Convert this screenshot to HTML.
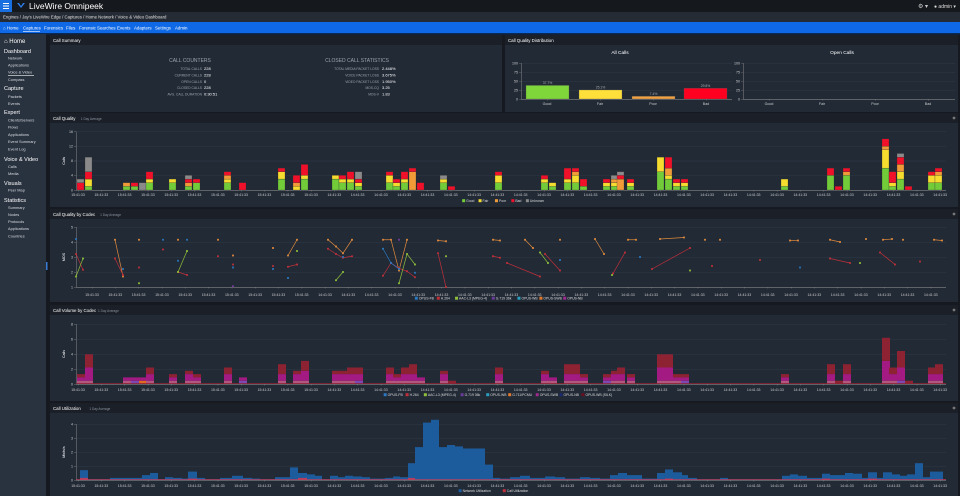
<!DOCTYPE html>
<html><head><meta charset="utf-8">
<style>
html,body{margin:0;padding:0;width:960px;height:496px;overflow:hidden;background:#161a20;}
svg{display:block;font-family:"Liberation Sans",sans-serif;}
</style></head>
<body>
<svg id="s" width="960" height="496" viewBox="0 0 960 496" xmlns="http://www.w3.org/2000/svg">
<rect width="960" height="496" fill="#161a20"/>
<!-- top bar -->
<rect x="0" y="0" width="960" height="12" fill="#15181c"/>
<rect x="0" y="0" width="12" height="12" fill="#1a6fe0"/>
<rect x="3" y="3" width="6" height="1" fill="#fff"/><rect x="3" y="5.5" width="6" height="1" fill="#fff"/><rect x="3" y="8" width="6" height="1" fill="#fff"/>
<path d="M17 3 L21 8 L25 3 L23 3 L21 6 L19 3Z" fill="#2a7de8"/>
<text x="29" y="9" font-size="8.5" fill="#fff">LiveWire Omnipeek</text>
<text x="918" y="8" font-size="6" fill="#ccc">⚙ ▾</text>
<text x="934" y="8" font-size="5" fill="#ddd">● admin ▾</text>
<rect x="0" y="12" width="960" height="10" fill="#252b34"/>
<text x="3" y="18.5" font-size="4.3" fill="#e0e0e0">Engines  /  Jay's LiveWire Edge  /  Captures  /  Home Network  /  Voice &amp; Video Dashboard</text>
<rect x="0" y="22" width="960" height="11" fill="#0f69e6"/>
<g font-size="4.4" fill="#fff">
<text x="3" y="29.5">⌂ Home</text><text x="23" y="29.5">Captures</text><text x="44" y="29.5">Forensics</text><text x="66" y="29.5">Files</text><text x="79" y="29.5">Forensic Searches</text><text x="117" y="29.5">Events</text><text x="134" y="29.5">Adapters</text><text x="155" y="29.5">Settings</text><text x="175" y="29.5">Admin</text>
</g>
<rect x="23" y="31" width="17" height="0.6" fill="#fff"/>
<rect x="0" y="33" width="960" height="1.5" fill="#0a2a55"/>
<!-- sidebar -->
<rect x="0" y="34" width="46" height="462" fill="#29323f"/>
<g fill="#fff">
<text x="4" y="43" font-size="6">⌂ Home</text>
<text x="4" y="53" font-size="5.5">Dashboard</text>
<text x="4" y="90" font-size="5.5">Capture</text>
<text x="4" y="114" font-size="5.5">Expert</text>
<text x="4" y="161" font-size="5.5">Voice &amp; Video</text>
<text x="4" y="185" font-size="5.5">Visuals</text>
<text x="4" y="202" font-size="5.5">Statistics</text>
</g>
<g fill="#d8dde4" font-size="3.9">
<text x="8" y="59.5">Network</text><text x="8" y="66.5">Applications</text><text x="8" y="73.5">Voice &amp; Video</text><text x="8" y="81">Compass</text>
<text x="8" y="98">Packets</text><text x="8" y="105">Events</text>
<text x="8" y="121.5">Clients/Servers</text><text x="8" y="128.5">Flows</text><text x="8" y="136">Applications</text><text x="8" y="143">Event Summary</text><text x="8" y="150.5">Event Log</text>
<text x="8" y="168">Calls</text><text x="8" y="175">Media</text>
<text x="8" y="191.5">Peer Map</text>
<text x="8" y="209">Summary</text><text x="8" y="216">Nodes</text><text x="8" y="223">Protocols</text><text x="8" y="230">Applications</text><text x="8" y="237.5">Countries</text>
</g>
<rect x="8" y="75" width="26" height="0.6" fill="#fff"/>
<rect x="46" y="262" width="1.5" height="8" fill="#3a7bd5"/>

<!-- panels -->
<g id="panels"></g>

<!-- call summary text -->
<g font-size="5" fill="#9aa3ae" text-anchor="middle">
<text x="190" y="62">CALL COUNTERS</text>
<text x="357" y="62">CLOSED CALL STATISTICS</text>
</g>
<g font-size="3.3" fill="#9aa3ae" text-anchor="end">
<text x="202" y="70">TOTAL CALLS</text><text x="202" y="76.5">CURRENT CALLS</text><text x="202" y="82.8">OPEN CALLS</text><text x="202" y="89">CLOSED CALLS</text><text x="202" y="95.5">AVG. CALL DURATION</text>
<text x="379" y="70">TOTAL MEDIA PACKET LOSS</text><text x="379" y="76.5">VOICE PACKET LOSS</text><text x="379" y="82.8">VIDEO PACKET LOSS</text><text x="379" y="89">MOS-CQ</text><text x="379" y="95.5">MOS-V</text>
</g>
<g font-size="4" fill="#fff">
<text x="204" y="70">228</text><text x="204" y="76.5">228</text><text x="204" y="82.8">0</text><text x="204" y="89">228</text><text x="204" y="95.5">0:30:51</text>
<text x="382" y="70">2.448%</text><text x="382" y="76.5">3.675%</text><text x="382" y="82.8">1.950%</text><text x="382" y="89">3.25</text><text x="382" y="95.5">1.83</text>
</g>

<!-- distribution -->
<g font-size="4.8" fill="#fff" text-anchor="middle"><text x="620" y="54">All Calls</text><text x="842" y="54">Open Calls</text></g>
<g id="dist"></g>

<g id="charts"></g>
</svg>
<script>
var NS="http://www.w3.org/2000/svg";
function el(parent,tag,attrs,txt){var e=document.createElementNS(NS,tag);for(var k in attrs)e.setAttribute(k,attrs[k]);if(txt!==undefined)e.textContent=txt;document.getElementById(parent).appendChild(e);return e;}
function rect(p,x,y,w,h,f,extra){var a={x:x,y:y,width:w,height:h,fill:f};for(var k in extra)a[k]=extra[k];return el(p,'rect',a);}
function text(p,x,y,s,t,f,anchor,extra){var a={x:x,y:y,'font-size':s,fill:f||'#ccc'};if(anchor)a['text-anchor']=anchor;for(var k in extra)a[k]=extra[k];return el(p,'text',a,t);}

// panels
function panel(x,y,w,h,title,sub){
  rect('panels',x,y,w,h,'#222a36');
  rect('panels',x,y,w,10,'#1b2028');
  var t=text('panels',x+3,y+6.8,4.4,title,'#fff');
  if(sub){text('panels',x+5+title.length*2.15,y+6.8,3.2,sub,'#8b939e');}
  if(w>600) el('panels','circle',{cx:x+w-4,cy:y+5,r:1.4,fill:'#777'});
}
panel(50,35,452,77,'Call Summary');
panel(505,35,453,77,'Call Quality Distribution');
panel(50,113,908,94,'Call Quality','1 Day Average');
panel(50,209,908,93,'Call Quality by Codec','1 Day Average');
panel(50,305,908,96,'Call Volume by Codec','1 Day Average');
panel(50,403,908,93,'Call Utilization','1 Day Average');

// distribution axes
function distAxes(x0,x1,labels){
  var ys=[[99,'0'],[90,'25'],[81,'50'],[72,'75'],[63,'100']];
  ys.forEach(function(v){ if(v[0]!=99) rect('dist',x0,v[0],x1-x0,0.4,'#333c49'); rect('dist',x0-2,v[0],2,0.4,'#777'); text('dist',x0-3,v[0]+1.3,3.6,v[1],'#ccc','end');});
  rect('dist',x0,63,0.5,36,'#888'); rect('dist',x0,99,x1-x0,0.6,'#888');
  labels.forEach(function(l){rect('dist',l[0],99,0.4,1.5,'#888');text('dist',l[0],105,3.6,l[1],'#ccc','middle');});
}
distAxes(521,732,[[547,'Good'],[600,'Fair'],[653,'Poor'],[706,'Bad']]);
distAxes(743,955,[[769,'Good'],[822,'Fair'],[875,'Poor'],[928,'Bad']]);
[[526,37.7,'#7ed63a'],[579,25.1,'#ffe03a'],[632,7.4,'#f0a040'],[684,29.8,'#ff0020']].forEach(function(b){
  var h=b[1]*0.36; rect('dist',b[0],99-h,43,h,b[2],{stroke:'#555',"stroke-width":0.3});
  text('dist',b[0]+21.5,99-h-1.5,3.4,b[1]+'%','#aaa','middle');
});

// generic axes
function axes(x0,x1,ybase,grid,ylab,ytitle,tickY,labX0){
  grid.forEach(function(g){ if(g[0]!==ybase) rect('charts',x0,g[0],x1-x0,0.4,'#333d4b'); rect('charts',x0-2,g[0],2,0.4,'#888'); text('charts',x0-3,g[0]+1.3,3.6,g[1],'#ccc','end');});
  rect('charts',x0,grid[grid.length-1][0],0.5,ybase-grid[grid.length-1][0],'#888');
  rect('charts',x0,ybase,x1-x0,0.6,'#888');
  var t=text('charts',0,0,3.6,ytitle,'#fff','middle',{transform:'translate('+(x0-11)+','+((ybase+grid[grid.length-1][0])/2)+') rotate(-90)'});
  for(var x=labX0;x<x1;x+=23.3){ rect('charts',x,ybase,0.4,1.5,'#888'); text('charts',x,tickY,3.5,x<320?'15:41:33':'14:41:33','#ccc','middle');}
}
function legend(y,items,xc){
  var tot=0; items.forEach(function(i){tot+=4+i[0].length*1.85+5;});
  var x=xc-tot/2;
  items.forEach(function(i){rect('charts',x,y-2.8,3,3,i[1]);text('charts',x+4,y,3.4,i[0],'#ddd');x+=4+i[0].length*1.85+5;});
}

// ---- Call Quality ----
axes(76,946,190,[[190,'0'],[175.4,'4'],[160.8,'8'],[146.2,'12'],[131.6,'16']],'','Calls',196,78);
var Q=[[77,0,0,0,2,1],[85,1,2,0,2,4],[123,1,0,1,0,0],[131,1,0,0,1,0],[139,0,0,0,0,2],[146,2,1,0,2,0],[169,2,1,0,0,0],[185,1,0,1,1,1],[193,2,0,0,1,0],[224,2,1,1,1,0],[239,0,0,0,2,0],[278,3,2,0,1,0],[293,0,1,1,2,0],[301,3,1,0,3,0],[332,3,1,0,0,0],[339,2,1,0,1,0],[347,2,1,0,2,0],[355,1,1,0,1,2],[386,2,2,0,1,0],[393,1,1,0,1,0],[401,2,1,0,2,0],[409,0,0,5,1,0],[417,0,0,0,2,0],[440,2,1,0,0,1],[448,0,0,0,1,0],[495,2,2,0,1,0],
[541,2,1,0,1,0],[549,1,1,0,0,0],[564,2,1,0,3,0],[572,2,2,1,1,0],[580,1,0,0,2,0],[603,1,1,0,1,0],[611,1,1,1,0,1],[617,0,0,3,1,1],[627,1,1,0,1,0],[657,5,4,0,0,0],[665,3,1,2,3,0],[673,1,1,0,1,0],[681,1,1,0,1,0],[781,1,2,0,0,0],[827,4,0,0,2,0],[835,0,0,0,1,0],[843,4,0,1,1,0],[882,6,5,1,2,0],[889,1,1,0,3,0],[897,3,2,2,2,1],[905,0,0,0,1,0],[928,2,2,0,1,0],[935,2,2,1,1,0]];
var QC=['#72cc3a','#f5dc2e','#f09a38','#f0102a','#8a8a8a'];
var U=3.65;
Q.forEach(function(b){var y=190;for(var i=0;i<5;i++){var h=b[i+1]*U;if(h>0){y-=h;rect('charts',b[0],y,7,h,QC[i],{stroke:'#333',"stroke-width":0.25});}}});
legend(202,[['Good',QC[0]],['Fair',QC[1]],['Poor',QC[2]],['Bad',QC[3]],['Unknown',QC[4]]],505);

// ---- Codec ----
function my(m){return 287-(m-1)*15;}
axes(76,946,287,[[287,'1'],[272,'2'],[257,'3'],[242,'4'],[227,'5']],'','MOS',296,92);
var L={ '#e08a3c':[[[115,4.15],[123,1.7]],[[139,4.15]],[[178,4.15]],[[218,4.15]],[[233,3.1]],[[273,3.6]],[[288,3.1],[297,4.15]],[[328,4.15],[336,3.7],[343,3.25],[352,4.15]],[[383,4.15],[391,4.15],[399,2.1],[407,4.15]],[[438,4.1],[446,4.05]],[[493,4.15],[500,4.1]],[[525,4.15],[533,3.6]],[[560,4.15]],[[595,4.2],[604,3.2]],[[628,4.15],[636,4.15]],[[660,4.2],[684,4.3]],[[705,4.15]],[[720,4.15]],[[790,4.1],[798,4.1]],[[830,4.15],[840,4.0]],[[866,4.2]],[[883,4.15],[892,4.2]],[[903,4.15]],[[934,4.15],[942,4.1]]],
 '#c0303a':[[[76,3.2],[83,2.15]],[[115,2.9],[123,1.8]],[[139,2.3]],[[163,3.5]],[[178,2.0],[187,1.8]],[[218,3.05]],[[233,2.5]],[[273,2.4]],[[288,2.35],[297,2.5]],[[328,3.55],[336,3.2],[343,2.95],[352,3.05]],[[383,1.75],[391,2.6],[399,2.25],[407,2.05],[415,1.65]],[[438,3.25],[446,1.0]],[[493,3.05],[500,2.95]],[[507,2.6],[540,1.7]],[[545,3.2],[560,2.1]],[[613,1.9],[625,3.3]],[[652,2.2],[690,3.6]],[[712,2.4]],[[760,2.8]],[[830,2.9],[850,2.6]],[[880,3.3],[895,2.5]],[[920,2.7]]],
 '#8fbf3a':[[[76,1.7],[83,2.9]],[[139,1.25]],[[178,2.0],[187,3.4]],[[297,3.4]],[[336,1.45],[343,2.0]],[[399,1.25],[407,3.2],[415,2.5]],[[446,3.05]],[[540,3.3],[548,2.6]],[[612,1.8]],[[690,2.1]],[[860,2.6]]],
 '#2a78c0':[[[76,4.2]],[[123,2.2]],[[163,4.15]],[[178,2.75]],[[187,4.15]],[[233,2.3]],[[273,2.2]],[[288,1.6]],[[343,3.0]],[[383,3.55],[391,2.6],[399,2.2]],[[415,1.95]],[[560,2.8]],[[640,3.0]],[[800,2.3]]],
 '#7a3aa0':[[[233,1.05]],[[399,4.15]]]};
for(var c in L){L[c].forEach(function(s){ if(s.length>1){el('charts','polyline',{points:s.map(function(p){return p[0]+','+my(p[1]);}).join(' '),fill:'none',stroke:c,'stroke-width':0.7});} s.forEach(function(p){rect('charts',p[0]-0.9,my(p[1])-0.9,1.8,1.8,c);});});}
legend(299.5,[['OPUS-FB','#2a78c0'],['H.264','#c0303a'],['AAC-L3 (MPEG-4)','#8fbf3a'],['G.719 36k','#6a3a9a'],['OPUS-WB','#2aa0c0'],['OPUS-SWB','#e07a30'],['OPUS-NB','#a02a90']],500);

// ---- Volume ----
axes(76,946,384,[[384,'0'],[369,'2'],[354,'4'],[339,'6'],[324,'8']],'','Calls',391,78);
Q.forEach(function(b,i){var t=b[1]+b[2]+b[3]+b[4]+b[5];var y=384;
  var parts=[[t>=2?1:0,'#b0587e'],[Math.round(t*0.4),'#a21a82'],[0,'#8c2232']];
  parts[2][0]=t-parts[0][0]-parts[1][0];
  if(i%7==3){parts[0][1]='#7a4ab0';} if(i==4){parts[0][1]='#e06a20';parts[0][0]=1;}
  parts.forEach(function(p){var h=p[0]*3.3;if(h>0){y-=h;rect('charts',b[0],y,8,h,p[1]);}});
});
rect('charts',76,383.2,870,0.8,'#8c2232');
legend(396,[['OPUS-FB','#2a78c0'],['H.264','#c0303a'],['AAC-L3 (MPEG-4)','#8fbf3a'],['G.719 36k','#6a3a9a'],['OPUS-WB','#2aa0c0'],['G.711/PCMU','#e07a30'],['OPUS-SWB','#a02a90'],['OPUS-NB','#1a2a70'],['OPUS-WB (SILK)','#6a1020']],500);

// ---- Utilization ----
axes(76,946,480,[[480,'0'],[466,'1'],[452,'2'],[438,'3'],[424,'4']],'','Mbits/s',487,78);
var UT=[[80,88,0.7],[88,110,0.05],[110,142,0.15],[142,150,0.35],[150,158,0.5],[158,165,0.05],[165,173,0.2],[173,182,0.15],[182,188,0.1],[188,197,0.6],[197,205,0.15],[205,220,0.05],[220,232,0.15],[232,243,0.3],[243,252,0.15],[252,260,0.1],[260,275,0.05],[275,290,0.2],[290,298,0.9],[298,307,0.5],[307,315,0.4],[315,322,0.3],[322,330,0.05],[330,338,0.3],[338,345,0.2],[345,353,0.3],[353,362,0.25],[362,370,0.2],[370,385,0.1],[385,393,0.15],[393,400,0.25],[400,408,0.2],[408,415,1.2],[415,423,2.35],[423,431,4.1],[431,439,4.3],[439,447,2.35],[447,455,2.5],[455,463,2.4],[463,485,2.25],[485,493,1.1],[493,500,0.15],
[500,510,0.1],[510,520,0.2],[520,530,0.3],[530,545,0.15],[545,555,0.25],[555,565,0.2],[565,580,0.1],[580,590,0.2],[590,600,0.15],
[600,610,0.1],[610,618,0.35],[618,627,0.5],[627,642,0.35],[642,657,0.1],[657,665,0.5],[665,673,0.75],[673,682,0.55],[682,688,0.35],[688,697,0.15],[697,720,0.05],[720,728,0.15],[728,782,0.05],[782,790,0.3],[790,798,0.4],[798,807,0.3],[807,822,0.15],[822,830,0.45],[830,845,0.35],[845,853,0.5],[853,862,0.45],[862,868,0.15],[868,877,0.55],[877,883,0.15],[883,892,0.55],[892,900,0.4],[900,907,0.3],[907,915,0.4],[915,923,1.2],[923,930,0.2],[930,943,0.6]];
UT.forEach(function(u){var h=u[2]*14;rect('charts',u[0],480-h,u[1]-u[0],h,'#1d5c9c');});
[[80,88,0.15],[188,197,0.1],[298,307,0.15],[408,415,0.15],[665,673,0.1],[822,830,0.1],[868,877,0.1]].forEach(function(u){rect('charts',u[0],480-u[2]*14,u[1]-u[0],u[2]*14,'#b04060');});
rect('charts',76,479.3,870,0.7,'#c04060');
legend(492,[['Network Utilization','#1d5c9c'],['Call Utilization','#c0303a']],500);
</script>
</body></html>
